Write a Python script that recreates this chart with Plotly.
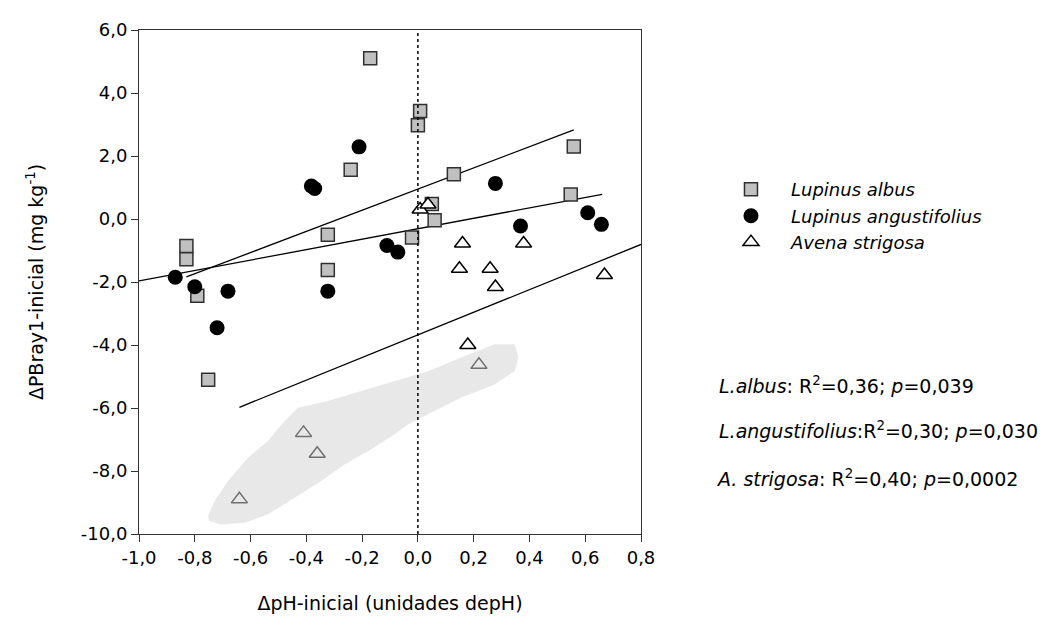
import plotly.graph_objects as go

# ---------------- data ----------------
albus_x = [-0.171, 0.008, 0.000, -0.241, 0.559, 0.129, 0.548, 0.050, 0.060,
           -0.021, -0.323, -0.323, -0.830, -0.830, -0.791, -0.752]
albus_y = [5.10, 3.43, 2.98, 1.56, 2.30, 1.42, 0.78, 0.48, -0.04,
           -0.59, -0.50, -1.62, -0.86, -1.28, -2.44, -5.10]

angus_x = [-0.211, -0.382, -0.370, -0.111, -0.072, 0.278, 0.368, 0.609, 0.658,
           -0.870, -0.800, -0.681, -0.323, -0.720]
angus_y = [2.29, 1.05, 0.97, -0.84, -1.05, 1.13, -0.22, 0.20, -0.17,
           -1.85, -2.15, -2.29, -2.29, -3.45]

avena_x = [0.008, 0.036, 0.160, 0.379, 0.149, 0.259, 0.278, 0.669,
           0.179, 0.219, -0.410, -0.361, -0.640]
avena_y = [0.30, 0.46, -0.78, -0.78, -1.58, -1.58, -2.16, -1.78,
           -4.00, -4.63, -6.79, -7.45, -8.90]

# regression lines: [intercept, slope, x_start, x_end]
fit_albus = [0.95, 3.36, -0.83, 0.559]
fit_angus = [-0.31, 1.656, -1.00, 0.661]
fit_avena = [-3.68, 3.59, -0.64, 0.80]

# highlighted region (grey blob)
blob_x = [-0.753, -0.729, -0.681, -0.609, -0.538, -0.478, -0.430, -0.323, -0.203,
          -0.084, 0.036, 0.155, 0.275, 0.347, 0.361, 0.347, 0.275, 0.155, 0.036,
          -0.036, -0.084, -0.179, -0.263, -0.347, -0.442, -0.538, -0.621, -0.705,
          -0.747]
blob_y = [-9.43, -8.95, -8.32, -7.58, -7.05, -6.41, -5.99, -5.78, -5.46,
          -5.14, -4.83, -4.40, -3.98, -3.98, -4.40, -4.83, -5.25, -5.67, -6.20,
          -6.52, -6.84, -7.37, -7.79, -8.32, -8.85, -9.38, -9.64, -9.70,
          -9.59]

series_names = ["Lupinus albus", "Lupinus angustifolius", "Avena strigosa"]

x_ticks = [-1.0, -0.8, -0.6, -0.4, -0.2, 0.0, 0.2, 0.4, 0.6, 0.8]
x_ticktext = ["-1,0", "-0,8", "-0,6", "-0,4", "-0,2", "0,0", "0,2", "0,4", "0,6", "0,8"]
y_ticks = [-10, -8, -6, -4, -2, 0, 2, 4, 6]
y_ticktext = ["-10,0", "-8,0", "-6,0", "-4,0", "-2,0", "0,0", "2,0", "4,0", "6,0"]

stats_text = [
    "<i>L.albus</i>: R<sup>2</sup>=0,36; <i>p</i>=0,039",
    "<i>L.angustifolius</i>:R<sup>2</sup>=0,30; <i>p</i>=0,030",
    "<i>A. strigosa</i>: R<sup>2</sup>=0,40; <i>p</i>=0,0002",
]

# ---------------- figure ----------------
FONT = "DejaVu Sans"
fig = go.Figure()

for fit in (fit_albus, fit_angus, fit_avena):
    b, m, x0, x1 = fit
    fig.add_trace(go.Scatter(
        x=[x0, x1], y=[b + m * x0, b + m * x1], mode="lines",
        line=dict(color="black", width=1.3), showlegend=False, hoverinfo="skip"))

fig.add_trace(go.Scatter(
    x=albus_x, y=albus_y, mode="markers", name="<i>" + series_names[0] + "</i>",
    marker=dict(symbol="square", size=13, color="#c0c0c0",
                line=dict(color="#303030", width=1.5))))
fig.add_trace(go.Scatter(
    x=angus_x, y=angus_y, mode="markers", name="<i>" + series_names[1] + "</i>",
    marker=dict(symbol="circle", size=15, color="black",
                line=dict(color="black", width=0))))
fig.add_trace(go.Scatter(
    x=avena_x, y=avena_y, mode="markers", name="<i>" + series_names[2] + "</i>",
    marker=dict(symbol="triangle-up", size=14, color="white",
                line=dict(color="black", width=1.5))))

# semi-transparent highlight drawn over the points
fig.add_trace(go.Scatter(
    x=blob_x + [blob_x[0]], y=blob_y + [blob_y[0]], mode="lines",
    fill="toself", fillcolor="rgba(211,211,211,0.53)",
    line=dict(width=0, color="rgba(0,0,0,0)"), showlegend=False, hoverinfo="skip"))

# vertical dotted line at x = 0
fig.add_shape(type="line", xref="x", yref="paper", x0=0, x1=0, y0=0, y1=1,
              line=dict(color="black", width=1.5, dash="dot"))

ann_x = [1.151, 1.151, 1.145]
ann_y = [0.2956, 0.2063, 0.111]
for t, ax_, ay_ in zip(stats_text, ann_x, ann_y):
    fig.add_annotation(text=t, xref="paper", yref="paper", x=ax_, y=ay_,
                       xanchor="left", yanchor="middle", showarrow=False,
                       font=dict(family=FONT, size=19, color="black"))

fig.update_layout(
    width=1059, height=619,
    margin=dict(l=131, r=426, t=22, b=93),
    paper_bgcolor="white", plot_bgcolor="white",
    font=dict(family=FONT, size=18, color="black"),
    legend=dict(x=1.1394, y=0.72, xanchor="left", yanchor="top",
                itemwidth=70,
                font=dict(family=FONT, size=18, color="black"),
                bgcolor="rgba(0,0,0,0)", tracegroupgap=0),
    showlegend=True,
)

fig.update_xaxes(
    range=[-1.0, 0.8], tickvals=x_ticks, ticktext=x_ticktext,
    showgrid=False, zeroline=False, showline=True, mirror=True,
    linecolor="#333333", linewidth=1, ticks="outside", ticklen=7,
    tickcolor="#333333", tickfont=dict(family=FONT, size=18),
    title=dict(text="ΔpH-inicial (unidades depH)", font=dict(family=FONT, size=19),
               standoff=30),
    automargin=False)
fig.update_yaxes(
    range=[-10, 6], tickvals=y_ticks, ticktext=y_ticktext,
    showgrid=False, zeroline=False, showline=True, mirror=True,
    linecolor="#333333", linewidth=1, ticks="outside", ticklen=7,
    tickcolor="#333333", tickfont=dict(family=FONT, size=18),
    title=dict(text="ΔPBray1-inicial (mg kg<sup>-1</sup>)", font=dict(family=FONT, size=19),
               standoff=32),
    automargin=False)

fig.write_html("out.html")
